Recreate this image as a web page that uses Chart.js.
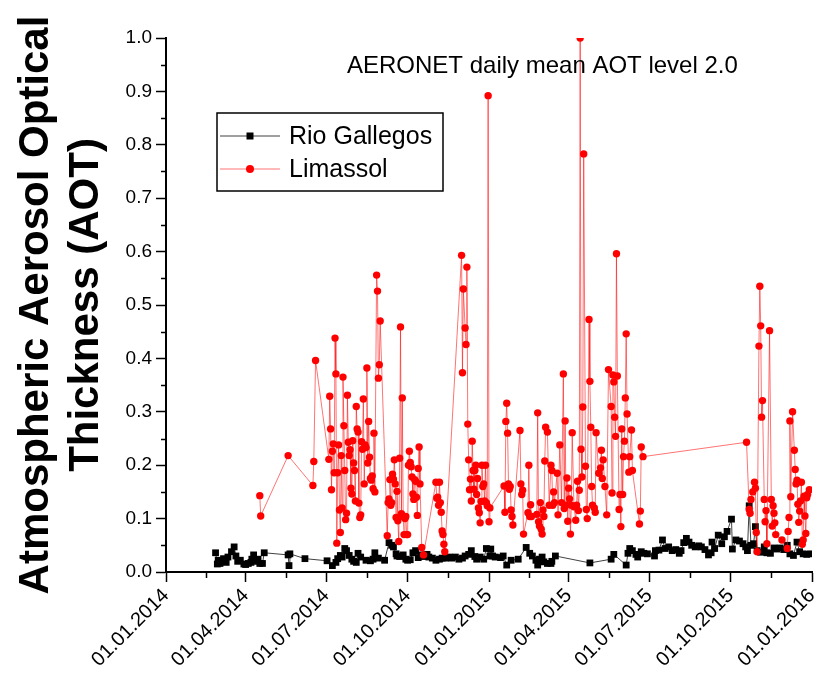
<!DOCTYPE html>
<html>
<head>
<meta charset="utf-8">
<script src="https://cdn.jsdelivr.net/npm/chart.js@4.4.1/dist/chart.umd.min.js"></script>
<style>
  html, body { margin: 0; padding: 0; background: #fff; }
  #wrap { width: 831px; height: 686px; }
</style>
</head>
<body>
<div id="wrap"><canvas id="aotChart" width="831" height="686"></canvas></div>
<script>
  // x values are days since 01.01.2014
  const xTickDays = [0, 90, 181, 273, 365, 455, 546, 638, 730];
  const xTickLabels = ["01.01.2014", "01.04.2014", "01.07.2014", "01.10.2014", "01.01.2015",
                       "01.04.2015", "01.07.2015", "01.10.2015", "01.01.2016"];
  const chartTitle = "AERONET daily mean AOT level 2.0";

  // [day, AOT]
  const rioGallegos = [
    [56,0.036],[58,0.015],[59,0.022],[61,0.016],[63,0.02],[65,0.025],[68,0.018],[70,0.028],[74,0.038],[77,0.047],
    [79,0.03],[81,0.02],[84,0.022],[88,0.015],[90,0.014],[93,0.016],[96,0.018],[97,0.024],[99,0.032],[102,0.02],
    [104,0.024],[106,0.016],[109,0.016],[111,0.036],[138,0.032],[139,0.012],[140,0.034],[157,0.025],[182,0.021],[188,0.012],
    [192,0.018],[194,0.025],[197,0.031],[199,0.028],[202,0.044],[204,0.04],[207,0.031],[210,0.024],[212,0.02],[215,0.018],
    [217,0.035],[220,0.028],[226,0.022],[231,0.021],[234,0.024],[236,0.036],[240,0.026],[247,0.022],[252,0.055],[255,0.05],
    [257,0.047],[260,0.034],[261,0.03],[264,0.029],[268,0.032],[271,0.024],[273,0.022],[276,0.023],[279,0.036],[282,0.04],
    [285,0.027],[288,0.032],[292,0.029],[295,0.033],[297,0.028],[301,0.026],[305,0.022],[309,0.024],[312,0.026],[316,0.026],
    [320,0.028],[323,0.026],[327,0.028],[331,0.024],[335,0.026],[338,0.03],[342,0.033],[345,0.04],[349,0.029],[351,0.024],
    [355,0.028],[359,0.024],[362,0.044],[366,0.03],[367,0.043],[369,0.03],[372,0.028],[378,0.027],[381,0.03],[385,0.013],
    [390,0.022],[398,0.024],[407,0.046],[411,0.035],[414,0.03],[418,0.022],[420,0.013],[422,0.024],[425,0.028],[427,0.019],
    [431,0.016],[435,0.016],[436,0.02],[440,0.03],[479,0.017],[503,0.024],[506,0.033],[520,0.013],[522,0.035],[524,0.044],
    [527,0.04],[531,0.033],[533,0.028],[537,0.038],[540,0.035],[544,0.034],[552,0.03],[553,0.04],[557,0.041],[561,0.06],
    [564,0.044],[568,0.047],[572,0.04],[576,0.042],[580,0.035],[582,0.04],[585,0.055],[588,0.063],[591,0.056],[594,0.05],
    [598,0.047],[602,0.049],[605,0.047],[609,0.042],[613,0.032],[616,0.036],[617,0.056],[620,0.044],[624,0.069],[628,0.053],
    [631,0.066],[634,0.076],[639,0.099],[640,0.043],[644,0.06],[648,0.058],[652,0.053],[655,0.047],[657,0.04],[659,0.124],
    [661,0.05],[664,0.053],[666,0.085],[668,0.04],[672,0.037],[676,0.047],[679,0.036],[683,0.035],[687,0.045],[690,0.043],
    [694,0.045],[698,0.042],[702,0.05],[705,0.034],[709,0.031],[713,0.056],[716,0.038],[720,0.034],[724,0.033],[728,0.034]
  ];

  const limassol = [
    [106,0.143],[107,0.105],[138,0.218],[166,0.162],[167,0.207],[169,0.396],[184,0.211],[185,0.329],[186,0.268],[187,0.154],
    [188,0.226],[189,0.24],[190,0.186],[191,0.438],[192,0.371],[193,0.054],[194,0.186],[195,0.238],[196,0.116],[197,0.074],
    [198,0.218],[199,0.12],[200,0.365],[201,0.274],[202,0.19],[203,0.098],[204,0.11],[205,0.331],[206,0.243],[207,0.218],
    [208,0.229],[209,0.157],[210,0.146],[211,0.246],[212,0.204],[213,0.19],[214,0.133],[215,0.31],[216,0.268],[217,0.262],
    [218,0.129],[219,0.102],[220,0.107],[221,0.244],[222,0.23],[223,0.324],[224,0.165],[225,0.238],[226,0.233],[227,0.382],
    [228,0.204],[229,0.282],[230,0.215],[231,0.175],[232,0.172],[233,0.18],[234,0.156],[235,0.26],[236,0.15],[238,0.556],
    [239,0.526],[240,0.363],[241,0.388],[242,0.47],[250,0.068],[251,0.13],[252,0.137],[253,0.173],[254,0.125],[255,0.13],
    [256,0.183],[257,0.174],[258,0.21],[259,0.165],[260,0.102],[261,0.151],[262,0.096],[263,0.057],[264,0.213],[265,0.459],
    [266,0.109],[267,0.326],[268,0.104],[269,0.07],[270,0.1],[271,0.104],[272,0.07],[273,0.07],[274,0.2],[275,0.226],
    [276,0.205],[277,0.197],[278,0.178],[279,0.146],[280,0.136],[281,0.173],[282,0.17],[283,0.14],[284,0.106],[285,0.194],
    [286,0.234],[287,0.165],[289,0.046],[291,0.032],[305,0.168],[306,0.138],[307,0.14],[308,0.125],[309,0.168],[310,0.13],
    [311,0.112],[312,0.077],[313,0.07],[314,0.052],[315,0.038],[334,0.593],[335,0.373],[336,0.53],[338,0.457],[339,0.426],
    [340,0.571],[341,0.277],[342,0.21],[343,0.154],[344,0.174],[345,0.133],[346,0.245],[347,0.19],[348,0.155],[349,0.19],
    [350,0.2],[351,0.145],[352,0.175],[353,0.12],[354,0.111],[355,0.092],[356,0.132],[357,0.2],[358,0.16],[359,0.165],
    [360,0.133],[361,0.2],[362,0.13],[363,0.124],[364,0.892],[365,0.094],[366,0.12],[382,0.161],[383,0.112],[384,0.282],
    [385,0.316],[386,0.26],[387,0.165],[388,0.155],[389,0.16],[390,0.116],[391,0.104],[392,0.088],[400,0.265],[401,0.165],
    [402,0.145],[403,0.153],[404,0.071],[409,0.111],[410,0.2],[411,0.104],[412,0.126],[413,0.104],[419,0.108],[420,0.298],
    [421,0.094],[422,0.086],[423,0.13],[424,0.08],[425,0.071],[426,0.116],[427,0.104],[428,0.208],[429,0.271],[431,0.262],
    [433,0.125],[435,0.2],[436,0.19],[437,0.125],[438,0.15],[439,0.13],[442,0.185],[443,0.107],[445,0.238],[447,0.13],
    [449,0.371],[450,0.119],[451,0.283],[452,0.125],[453,0.176],[454,0.095],[455,0.157],[456,0.137],[457,0.071],[458,0.125],
    [459,0.261],[461,0.122],[463,0.097],[464,0.125],[465,0.17],[466,0.115],[467,0.153],[468,1.0],[469,0.23],[470,0.178],
    [471,0.309],[472,0.783],[474,0.198],[475,0.117],[476,0.1],[478,0.473],[479,0.357],[480,0.271],[481,0.16],[482,0.125],
    [484,0.12],[485,0.112],[486,0.261],[489,0.185],[491,0.195],[492,0.228],[493,0.175],[494,0.21],[496,0.16],[498,0.107],
    [500,0.379],[503,0.31],[504,0.148],[505,0.369],[506,0.356],[507,0.29],[508,0.254],[509,0.596],[510,0.367],[512,0.117],
    [513,0.145],[514,0.085],[515,0.268],[516,0.145],[517,0.216],[518,0.245],[519,0.326],[520,0.446],[521,0.296],[523,0.187],
    [524,0.216],[526,0.266],[527,0.19],[535,0.09],[536,0.114],[537,0.234],[539,0.216],[656,0.243],[659,0.117],[660,0.11],
    [661,0.136],[663,0.15],[665,0.168],[666,0.157],[667,0.074],[668,0.038],[670,0.423],[671,0.535],[672,0.461],[673,0.29],
    [674,0.321],[676,0.136],[677,0.094],[678,0.115],[679,0.053],[682,0.452],[684,0.136],[685,0.086],[686,0.124],[687,0.11],
    [688,0.092],[689,0.07],[696,0.06],[702,0.044],[703,0.076],[704,0.102],[705,0.283],[706,0.141],[708,0.3],[710,0.228],
    [711,0.192],[712,0.165],[713,0.172],[714,0.127],[715,0.093],[716,0.114],[717,0.133],[718,0.168],[719,0.052],[720,0.06],
    [721,0.142],[722,0.105],[723,0.072],[724,0.139],[725,0.145],[727,0.154]
  ];

  const FONT = "'Liberation Sans', Arial, sans-serif";
  Chart.defaults.font.family = FONT;
  Chart.defaults.color = "#000";

  const toPoints = rows => rows.map(([x, y]) => ({ x, y }));

  // minor ticks, title and the boxed legend inside the plot
  const extras = {
    id: "extras",
    afterDraw(chart) {
      const { ctx, chartArea: a, scales: { x, y } } = chart;
      ctx.save();
      ctx.strokeStyle = "#000";
      ctx.lineWidth = 1.5;
      for (let i = 0; i < xTickDays.length - 1; i++) {
        const px = Math.round(x.getPixelForValue((xTickDays[i] + xTickDays[i + 1]) / 2)) + 0.5;
        ctx.beginPath(); ctx.moveTo(px, a.bottom); ctx.lineTo(px, a.bottom + 6); ctx.stroke();
      }
      for (let k = 0; k < 10; k++) {
        const py = Math.round(y.getPixelForValue(0.05 + k * 0.1)) + 0.5;
        ctx.beginPath(); ctx.moveTo(a.left - 5, py); ctx.lineTo(a.left, py); ctx.stroke();
      }

      ctx.fillStyle = "#000";
      ctx.font = "24px " + FONT;
      ctx.textAlign = "left";
      ctx.textBaseline = "alphabetic";
      ctx.fillText(chartTitle, a.left + 181, a.top + 35);

      // legend
      const bx = a.left + 51, by = a.top + 75, bw = 226, bh = 78;
      ctx.fillStyle = "#fff";
      ctx.fillRect(bx, by, bw, bh);
      ctx.strokeStyle = "#000";
      ctx.lineWidth = 1.5;
      ctx.strokeRect(bx, by, bw, bh);
      ctx.font = "25px " + FONT;
      chart.data.datasets.forEach((ds, i) => {
        const ly = by + 23 + i * 33;
        ctx.strokeStyle = ds.borderColor;
        ctx.lineWidth = 1;
        ctx.beginPath(); ctx.moveTo(bx + 3, ly); ctx.lineTo(bx + 63, ly); ctx.stroke();
        ctx.fillStyle = ds.pointBackgroundColor;
        if (ds.pointStyle === "rect") {
          ctx.fillRect(bx + 33 - 3.5, ly - 3.5, 7, 7);
        } else {
          ctx.beginPath(); ctx.arc(bx + 33, ly, 4, 0, Math.PI * 2); ctx.fill();
        }
        ctx.fillStyle = "#000";
        ctx.textBaseline = "middle";
        ctx.fillText(ds.label, bx + 72, ly + 1);
      });
      ctx.restore();
    }
  };

  new Chart(document.getElementById("aotChart"), {
    type: "line",
    data: {
      datasets: [
        {
          label: "Rio Gallegos",
          data: toPoints(rioGallegos),
          borderColor: "rgba(0,0,0,0.75)",
          borderWidth: 1,
          pointStyle: "rect",
          pointRadius: 4.8,
          pointBorderWidth: 0,
          pointBackgroundColor: "#000",
          order: 2
        },
        {
          label: "Limassol",
          data: toPoints(limassol),
          borderColor: "rgba(255,0,0,0.55)",
          borderWidth: 1,
          pointStyle: "circle",
          pointRadius: 3.7,
          pointBorderWidth: 0,
          pointBackgroundColor: "#ff0000",
          order: 1
        }
      ]
    },
    options: {
      responsive: false,
      animation: false,
      devicePixelRatio: 1,
      layout: { padding: { top: 38, right: 9, left: 0, bottom: 0 } },
      plugins: { legend: { display: false }, tooltip: { enabled: false } },
      scales: {
        x: {
          type: "linear",
          min: 0,
          max: 730,
          afterBuildTicks: s => { s.ticks = xTickDays.map(v => ({ value: v })); },
          afterFit: s => { s.height = 114; },
          border: { color: "#000", width: 2 },
          grid: { drawOnChartArea: false, color: "#000", tickLength: 10, tickWidth: 1.5 },
          ticks: {
            autoSkip: false,
            minRotation: 45,
            maxRotation: 45,
            padding: 2,
            font: { size: 20 },
            callback: v => xTickLabels[xTickDays.indexOf(v)] ?? ""
          }
        },
        y: {
          min: 0,
          max: 1,
          afterFit: s => { s.width = 166; },
          border: { color: "#000", width: 2 },
          grid: { drawOnChartArea: false, color: "#000", tickLength: 10, tickWidth: 1.5 },
          ticks: {
            stepSize: 0.1,
            padding: 4,
            font: { size: 19 },
            callback: v => v.toFixed(1)
          },
          title: {
            display: true,
            text: ["Atmospheric Aerosol Optical", "Thickness (AOT)"],
            font: { size: 42, weight: "bold", lineHeight: 1.18 },
            padding: { top: 12, bottom: 0 }
          }
        }
      }
    },
    plugins: [extras]
  });
</script>
</body>
</html>
